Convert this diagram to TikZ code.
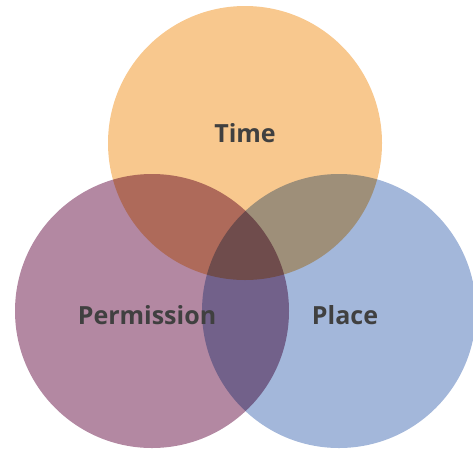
\documentclass[tikz,border=0pt]{standalone}
\usepackage{fontspec}
\setmainfont{Open Sans}
\definecolor{timecol}{RGB}{248,200,142}
\definecolor{permcol}{RGB}{179,136,162}
\definecolor{placecol}{RGB}{163,183,218}
\definecolor{textcol}{RGB}{64,64,64}
\tikzset{
  venntext/.style={text=textcol, font=\fontsize{25}{30}\selectfont\bfseries, inner sep=0pt}
}
\begin{document}
\begin{tikzpicture}[x=1pt,y=-1pt]
    \useasboundingbox (0,0) rectangle (473,448);

    % Círculos con mezcla multiplicativa
    \begin{scope}[blend group=multiply]
        \fill[timecol] (245,143) circle (137pt);
        \fill[permcol] (152,311) circle (137pt);
        \fill[placecol] (339,311) circle (137pt);
    \end{scope}

    % Etiquetas
    \node[venntext] (time) at (245,133) {Time};
    \node[venntext] (permission) at (147,315) {Permission};
    \node[venntext] (place) at (345,315) {Place};
\end{tikzpicture}
\end{document}
